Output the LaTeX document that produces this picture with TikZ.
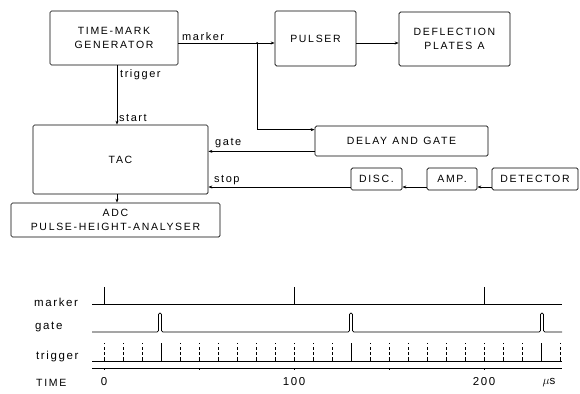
\documentclass[tikz,border=0pt]{standalone}
\usepackage{fontspec}
\setmainfont{Liberation Sans}
\newfontfamily\capfont[LetterSpace=16]{Liberation Sans}
\newfontfamily\lowfont[LetterSpace=14]{Liberation Sans}
\usetikzlibrary{arrows.meta,calc}
\begin{document}
\begin{tikzpicture}[x=1pt,y=-1pt,
  box/.style={draw,line width=0.7pt,rounded corners=1.5pt,inner sep=0pt,align=center,font=\capfont\fontsize{10.5}{13.5}\selectfont},
  arr/.style={line width=0.7pt,-{Stealth[length=4pt,width=3pt]}},
  lbl/.style={font=\lowfont\fontsize{11}{12}\selectfont,inner sep=0pt},
  wave/.style={line width=0.7pt},
  tlbl/.style={font=\lowfont\fontsize{11.5}{12}\selectfont,inner sep=0pt,anchor=west}]
\useasboundingbox (0,0) rectangle (580,393);
% blocks
\node[box,minimum width=128pt,minimum height=54pt] (tmg) at (114,38) {TIME-MARK\\GENERATOR};
\node[box,minimum width=81pt,minimum height=55pt] (pulser) at (315.5,38.5) {PULSER};
\node[box,minimum width=111pt,minimum height=54pt] (defl) at (454.5,39) {DEFLECTION\\PLATES\enspace A};
\node[box,minimum width=173pt,minimum height=30pt] (delay) at (401.5,141) {DELAY\enspace AND\enspace GATE};
\node[box,minimum width=175pt,minimum height=69pt] (tac) at (120.5,159.5) {TAC};
\node[box,minimum width=209pt,minimum height=34pt] (adc) at (115.5,220) {ADC\\PULSE-HEIGHT-ANALYSER};
\node[box,minimum width=51pt,minimum height=22pt] (disc) at (376.5,179) {DISC.};
\node[box,minimum width=50pt,minimum height=22pt] (amp) at (452,179) {AMP.};
\node[box,minimum width=86pt,minimum height=22pt] (det) at (535,179) {DETECTOR};
% helper coordinates
\coordinate (j) at (257,43);
\coordinate (t) at (117,0);
\coordinate (s) at (0,187);
\coordinate (g) at ($(delay.south west)+(0,-5)$);
% connectors
\draw[arr] (j -| tmg.east) -- (j -| pulser.west);
\draw[arr] (j -| pulser.east) -- (j -| defl.west);
\draw[arr] (j) |- ($(delay.north west)+(0,4)$);
\fill (j) circle (1pt);
\draw[arr] (tmg.south -| t) -- (tac.north -| t);
\draw[arr] (g) -- (g -| tac.east);
\draw[arr] (disc.west |- s) -- (tac.east |- s);
\draw[arr] (amp.west |- s) -- (disc.east |- s);
\draw[arr] (det.west |- s) -- (amp.east |- s);
\draw[arr] (tac.south -| t) -- (adc.north -| t);
% labels
\node[lbl,anchor=south west] (lmarker) at (182,41) {marker};
\node[lbl,anchor=west] (ltrigger) at (120,75) {trigger};
\node[lbl,anchor=south west] (lstart) at (119,122) {start};
\node[lbl,anchor=south west] (lgate) at (215,148) {gate};
\node[lbl,anchor=south west] (lstop) at (214,185) {stop};
% timing diagram
\node[tlbl] (tm) at (34,302) {marker};
\node[tlbl] (tg) at (35,327) {gate};
\node[tlbl] (tt) at (36,357) {trigger};
\node[tlbl,font=\capfont\fontsize{10.5}{12}\selectfont] (tT) at (36,383) {TIME};
% marker
\draw[wave] (92,304) -- (562,304);
\foreach \tt in {0,100,200} \draw[wave] ({104+1.9*\tt},304) -- ++(0,-17);
% gate
\draw[wave,rounded corners=1.4pt] (92,332) -- (158.5,332) -- ++(0,-19) -- ++(3,0) -- ++(0,19)
  -- (349.5,332) -- ++(0,-19) -- ++(3,0) -- ++(0,19)
  -- (540.5,332) -- ++(0,-19) -- ++(3,0) -- ++(0,19) -- (562,332);
% trigger
\draw[wave] (92,361) -- (562,361);
\foreach \tt in {0,10,...,240}{
  \pgfmathsetmacro{\xx}{104+1.9*\tt}
  \ifnum\tt=30 \draw[wave] (\xx,361) -- (\xx,343);
  \else\ifnum\tt=130 \draw[wave] (\xx,361) -- (\xx,343);
  \else\ifnum\tt=230 \draw[wave] (\xx,361) -- (\xx,343);
  \else
    \draw[wave] (\xx,361) -- (\xx,357);
    \draw[wave,dash pattern=on 3pt off 2.5pt] (\xx,355) -- (\xx,343);
  \fi\fi\fi
}
% time axis
\draw[wave] (92,368) -- (562,368);
\foreach \tt in {0,50,100,150,200} \draw[line width=0.5pt] ({104+1.9*\tt},368) -- ++(0,2);
\node[tlbl,anchor=center] (n0) at (104,382) {0};
\node[tlbl,anchor=center] (n100) at (294,382) {100};
\node[tlbl,anchor=center] (n200) at (484,382) {200};
\node[tlbl,anchor=center] (nus) at (549,383) {$\mu$s};
\end{tikzpicture}
\end{document}
